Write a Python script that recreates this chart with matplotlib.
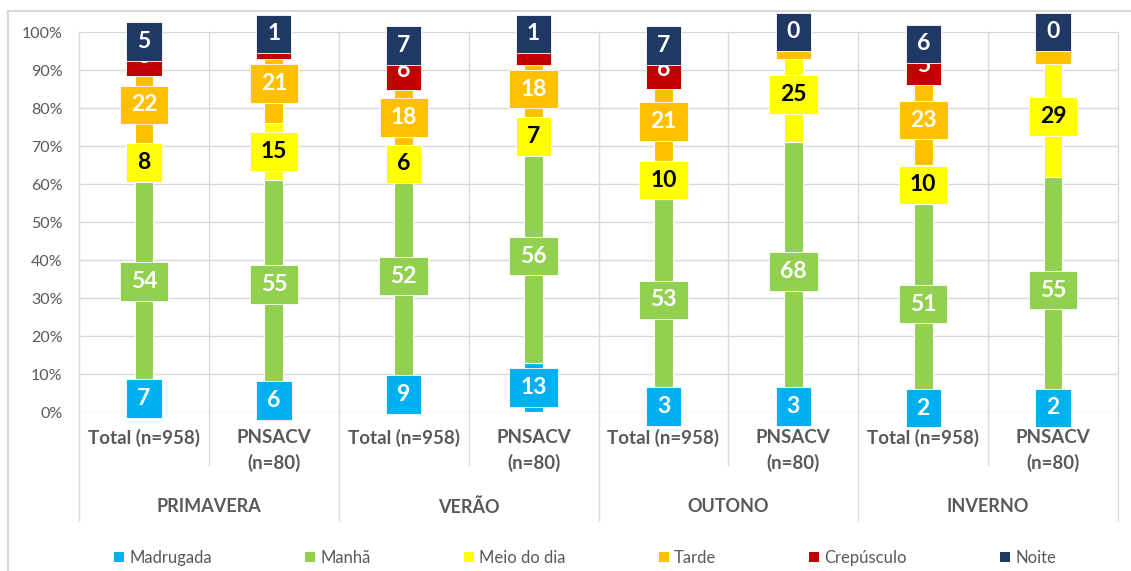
import matplotlib
matplotlib.use("Agg")
import matplotlib.pyplot as plt
from matplotlib.lines import Line2D
from matplotlib.patches import Patch
from matplotlib.path import Path
import numpy as np

plt.rcParams['font.family'] = ['Lato', 'DejaVu Sans']

# ---------------- data ----------------
seasons = ["PRIMAVERA", "VERÃO", "OUTONO", "INVERNO"]
groups = ["Total (n=958)", "PNSACV\n(n=80)"]
series_names = ["Madrugada", "Manhã", "Meio do dia", "Tarde", "Crepúsculo", "Noite"]
colors = ["#00B0F0", "#92D050", "#FFFF00", "#FFC000", "#C00000", "#1F3864"]
text_colors = ["white", "white", "black", "white", "white", "white"]

# values per bar (order: PRIM Total, PRIM PNSACV, VER Total, VER PNSACV, OUT Total, OUT PNSACV, INV Total, INV PNSACV)
madrugada = [7, 6, 9, 13, 3, 3, 2, 2]
manha = [54, 55, 52, 56, 53, 68, 51, 55]
meio_dia = [8, 15, 6, 7, 10, 25, 10, 29]
tarde = [22, 21, 18, 18, 21, 4, 23, 6]
crepusculo = [3, 2, 6, 5, 6, 0, 5, 0]
noite = [5, 1, 7, 1, 7, 0, 6, 0]

data = np.array([madrugada, manha, meio_dia, tarde, crepusculo, noite], dtype=float)
perc = data / data.sum(axis=0) * 100


def label_box(x0, y0, width, height, mutation_size):
    px = 0.48 * mutation_size
    py = 0.38 * mutation_size
    a, b = x0 - px, y0 - py
    c, d = x0 + width + px, y0 + height + py
    return Path([(a, b), (c, b), (c, d), (a, d), (a, b)],
                [Path.MOVETO, Path.LINETO, Path.LINETO, Path.LINETO, Path.CLOSEPOLY])


W, H = 1131, 571
fig = plt.figure(figsize=(W / 100, H / 100), dpi=100)
ax = fig.add_axes([79 / W, 1 - 412 / H, (1118 - 79) / W, 380 / H])

n = data.shape[1]
x = np.arange(n)
ax.set_xlim(-0.5, n - 0.5)
ax.set_ylim(0, 100)

bottom = np.zeros(n)
for i, name in enumerate(series_names):
    ax.bar(x, perc[i], 0.145, bottom=bottom, color=colors[i], edgecolor="white",
           linewidth=0.8, zorder=3, label=name)
    for j in range(n):
        cy = bottom[j] + perc[i][j] / 2
        ax.text(x[j], cy, f"{int(data[i][j])}", ha="center", va="center",
                fontsize=16.5, fontweight="bold", color=text_colors[i],
                zorder=10 + i, clip_on=False,
                bbox=dict(boxstyle=label_box, fc=colors[i], ec="white", lw=0.6))
    bottom += perc[i]

# grid & axes
ax.set_yticks(np.arange(0, 101, 10))
ax.set_yticklabels([f"{v}%" for v in range(0, 101, 10)], fontsize=11.5, color="#595959")
ax.yaxis.grid(True, color="#D9D9D9", linewidth=1, zorder=0)
ax.tick_params(axis="y", length=0, pad=12)
ax.tick_params(axis="x", length=0)
ax.set_xticks([])
for s in ["top", "right", "bottom", "left"]:
    ax.spines[s].set_visible(False)

# separators
sep_color = "#D9D9D9"
for k in range(n + 1):
    xs = k - 0.5
    y_end = -0.284 if k % 2 == 0 else -0.139
    ax.plot([xs, xs], [1.0, y_end], transform=ax.get_xaxis_transform(),
            color=sep_color, lw=1, clip_on=False, zorder=1)

# category labels
for j in range(n):
    lab = groups[j % 2]
    ax.text(x[j], -0.045, lab, transform=ax.get_xaxis_transform(), ha="center", va="top",
            fontsize=13.5, fontweight="bold", color="#595959", linespacing=1.55)
for s, season in enumerate(seasons):
    ax.text(2 * s + 0.5, -0.25, season, transform=ax.get_xaxis_transform(),
            ha="center", va="center", fontsize=13, fontweight="bold", color="#595959")

# chart border
fig.add_artist(Line2D([8 / W, 1], [1 - 11 / H, 1 - 11 / H], color="#D9D9D9", lw=1.5))
fig.add_artist(Line2D([8 / W, 8 / W], [0, 1 - 11 / H], color="#D9D9D9", lw=1.5))

# legend
handles = [Patch(facecolor=c, edgecolor="none") for c in colors]
fig.legend(handles, series_names, loc="center", bbox_to_anchor=(585 / W, 1 - 558 / H),
           ncol=6, frameon=False, fontsize=12, handlelength=0.6, handleheight=0.6,
           handletextpad=0.3, columnspacing=5.6, labelcolor="#595959")

fig.savefig("out.png", dpi=100)
